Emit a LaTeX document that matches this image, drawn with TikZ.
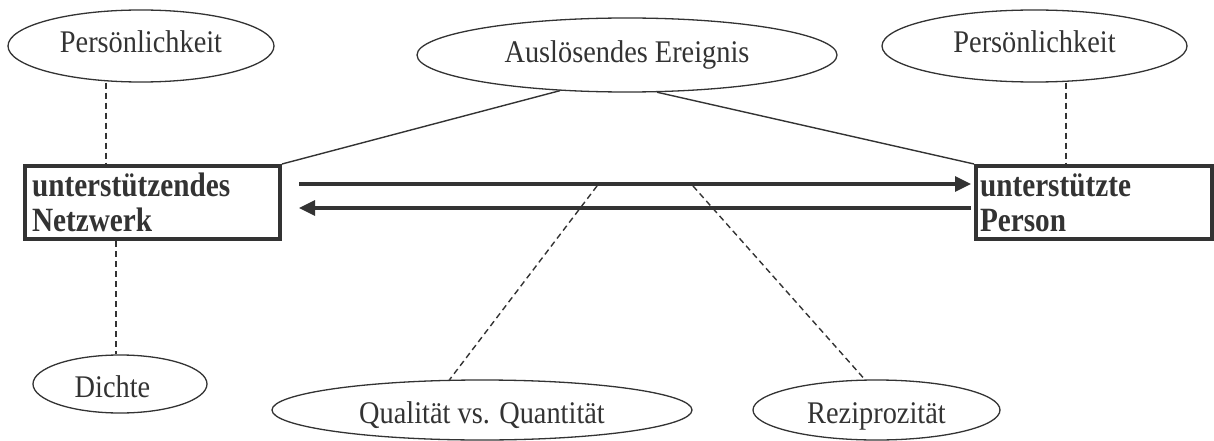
\documentclass[tikz,border=0pt]{standalone}
\usepackage{fontspec}
\setmainfont{Liberation Serif}
\newfontfamily\ovalfont[FakeStretch=0.9]{Liberation Serif}
\newfontfamily\boxfont[FakeStretch=0.86]{Liberation Serif}
\usetikzlibrary{shapes.geometric,arrows.meta}
\definecolor{ink}{RGB}{51,51,51}
\tikzset{
  oval/.style={ellipse, draw=ink, line width=1.3pt, inner sep=0pt, text=ink,
               font=\ovalfont\fontsize{31.5}{35}\selectfont},
  toptext/.style={text height=21.5pt, text depth=7.5pt},
  lowtext/.style={text height=26pt, text depth=0pt},
  bbox/.style={rectangle, draw=ink, line width=4pt, inner ysep=0pt, text=ink, align=left,
               font=\boxfont\fontsize{34}{35}\selectfont\bfseries},
  solidln/.style={draw=ink, line width=1.4pt},
  dashln/.style={draw=ink, line width=1.4pt, dash pattern=on 6pt off 4pt},
  arr/.style={draw=ink, line width=3.2pt, -{Triangle[length=16pt,width=15pt]}}
}
\begin{document}
\begin{tikzpicture}[x=1pt,y=-1pt]
\useasboundingbox (0,0) rectangle (1214,441);
% ellipses
\node[oval, toptext, minimum width=266pt, minimum height=72pt] (persL) at (141,46) {Persönlichkeit};
\node[oval, minimum width=420pt, minimum height=74pt] (ausl) at (627,55) {Auslösendes Ereignis};
\node[oval, toptext, minimum width=305pt, minimum height=72pt] (persR) at (1034.5,46) {Persönlichkeit};
\node[oval, lowtext, minimum width=174pt, minimum height=58pt] (dichte) at (120,384) {Dichte\kern15pt};
\node[oval, lowtext, minimum width=420pt, minimum height=60pt] (qual) at (482,410) {Qualität vs. Quantität};
\node[oval, lowtext, minimum width=247pt, minimum height=60pt] (rezi) at (876.5,410) {Reziprozität};
% boxes
\node[bbox, minimum width=255pt, minimum height=73pt, inner xsep=7pt, text width=241pt] (boxL) at (152.5,202.5) {unterstützendes\\Netzwerk};
\node[bbox, minimum width=236pt, minimum height=73pt, inner xsep=4pt, text width=228pt] (boxR) at (1094,202.5) {unterstützte\\Person};
% helper coordinates
\coordinate (dlx) at (106,0);
\coordinate (drx) at (1066,0);
\coordinate (dbx) at (116,0);
\coordinate (qa) at (597,186);
\coordinate (ra) at (693,186);
% dashed links
\draw[dashln] (persL.south -| dlx) -- (boxL.north -| dlx);
\draw[dashln] (persR.south -| drx) -- (boxR.north -| drx);
\draw[dashln] (boxL.south -| dbx) -- (dichte.north -| dbx);
\draw[dashln] (qa) -- (qual.137);
\draw[dashln] (ra) -- (rezi.111);
% solid links
\draw[solidln] (ausl.208) -- (boxL.north east);
\draw[solidln] (ausl.309) -- (boxR.north west);
% arrows
\draw[arr, shorten <=17pt, shorten >=3pt] ([yshift=18.5pt]boxL.east) -- ([yshift=18.5pt]boxR.west);
\draw[arr, shorten <=3pt, shorten >=17pt] ([yshift=-5.5pt]boxR.west) -- ([yshift=-5.5pt]boxL.east);
\end{tikzpicture}
\end{document}
